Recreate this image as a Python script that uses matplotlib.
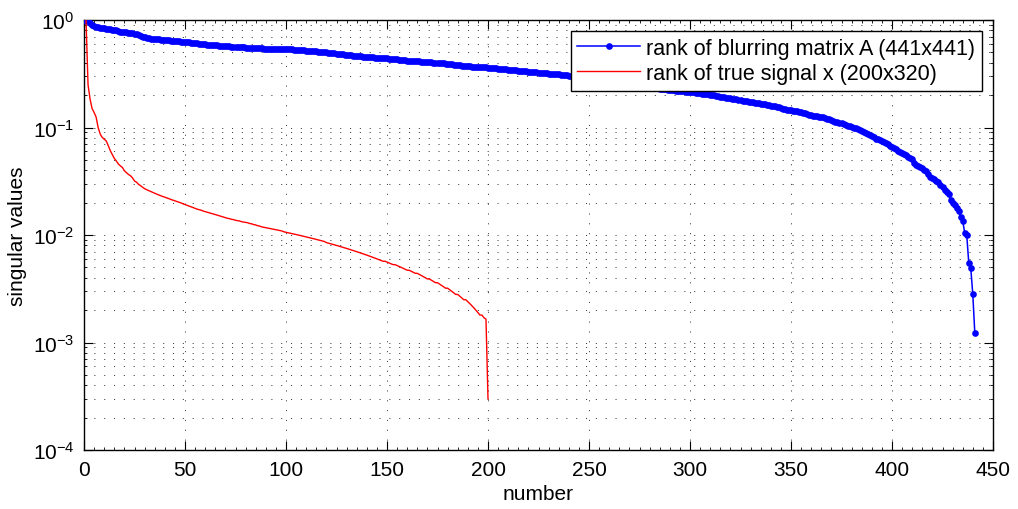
import numpy as np
import matplotlib
matplotlib.use("Agg")
import matplotlib.pyplot as plt
from matplotlib.ticker import LogLocator, MultipleLocator, FixedLocator, NullFormatter

# Singular values of the 441x441 blurring matrix A (index 1..441)
sv_blur = [
    0.97, 1.00, 0.94, 0.90, 0.88, 0.87, 0.86, 0.85, 0.84, 0.84,
    0.83, 0.82, 0.82, 0.81, 0.80, 0.80, 0.79, 0.78, 0.78, 0.77,
    0.77, 0.76, 0.76, 0.75, 0.74, 0.74, 0.72, 0.71, 0.70, 0.69,
    0.68, 0.68, 0.67, 0.67, 0.665, 0.66, 0.66, 0.655, 0.65, 0.65,
    0.645, 0.645, 0.64, 0.64, 0.64, 0.635, 0.635, 0.63, 0.63, 0.625,
    0.62, 0.62, 0.615, 0.61, 0.61, 0.605, 0.60, 0.60, 0.595, 0.595,
    0.59, 0.59, 0.585, 0.585, 0.58, 0.58, 0.578, 0.575, 0.573, 0.572,
    0.57, 0.568, 0.566, 0.564, 0.562, 0.56, 0.559, 0.557, 0.555, 0.554,
    0.552, 0.551, 0.55, 0.548, 0.547, 0.546, 0.545, 0.544, 0.543, 0.542,
    0.541, 0.54, 0.54, 0.539, 0.539, 0.538, 0.538, 0.537, 0.537, 0.536,
    0.535, 0.534, 0.533, 0.531, 0.53, 0.528, 0.526, 0.524, 0.522, 0.52,
    0.518, 0.516, 0.514, 0.512, 0.51, 0.508, 0.506, 0.504, 0.502, 0.50,
    0.498, 0.496, 0.493, 0.49, 0.487, 0.484, 0.481, 0.478, 0.475, 0.472,
    0.47, 0.468, 0.466, 0.464, 0.462, 0.46, 0.458, 0.456, 0.454, 0.452,
    0.45, 0.449, 0.448, 0.447, 0.446, 0.445, 0.444, 0.443, 0.442, 0.44,
    0.438, 0.436, 0.434, 0.432, 0.43, 0.428, 0.426, 0.424, 0.422, 0.42,
    0.418, 0.417, 0.416, 0.414, 0.413, 0.412, 0.41, 0.408, 0.406, 0.405,
    0.404, 0.403, 0.402, 0.401, 0.40, 0.399, 0.397, 0.395, 0.393, 0.391,
    0.389, 0.387, 0.385, 0.383, 0.381, 0.379, 0.377, 0.375, 0.373, 0.371,
    0.37, 0.369, 0.368, 0.367, 0.366, 0.365, 0.364, 0.363, 0.362, 0.36,
    0.359, 0.357, 0.356, 0.355, 0.353, 0.352, 0.35, 0.349, 0.347, 0.346,
    0.344, 0.343, 0.341, 0.34, 0.338, 0.337, 0.335, 0.334, 0.332, 0.331,
    0.329, 0.328, 0.326, 0.325, 0.324, 0.322, 0.321, 0.32, 0.318, 0.317,
    0.316, 0.315, 0.314, 0.313, 0.312, 0.311, 0.31, 0.308, 0.306, 0.304,
    0.302, 0.30, 0.298, 0.296, 0.294, 0.292, 0.29, 0.288, 0.286, 0.284,
    0.282, 0.280, 0.279, 0.277, 0.276, 0.274, 0.273, 0.271, 0.270, 0.268,
    0.266, 0.265, 0.263, 0.262, 0.26, 0.259, 0.257, 0.256, 0.254, 0.253,
    0.251, 0.25, 0.248, 0.247, 0.245, 0.244, 0.242, 0.241, 0.239, 0.238,
    0.236, 0.235, 0.233, 0.232, 0.23, 0.229, 0.227, 0.226, 0.224, 0.223,
    0.222, 0.221, 0.22, 0.219, 0.218, 0.218, 0.217, 0.216, 0.216, 0.215,
    0.214, 0.212, 0.211, 0.21, 0.208, 0.207, 0.206, 0.204, 0.203, 0.202,
    0.2, 0.199, 0.197, 0.196, 0.194, 0.193, 0.191, 0.19, 0.189, 0.188,
    0.186, 0.185, 0.183, 0.182, 0.18, 0.178, 0.176, 0.175, 0.173, 0.172,
    0.171, 0.17, 0.169, 0.168, 0.167, 0.166, 0.165, 0.163, 0.162, 0.16,
    0.158, 0.157, 0.155, 0.154, 0.152, 0.15, 0.149, 0.147, 0.146, 0.144,
    0.143, 0.142, 0.141, 0.14, 0.139, 0.137, 0.135, 0.133, 0.131, 0.13,
    0.129, 0.128, 0.127, 0.126, 0.125, 0.124, 0.123, 0.121, 0.119, 0.117,
    0.115, 0.113, 0.112, 0.111, 0.11, 0.108, 0.106, 0.104, 0.103, 0.101,
    0.099, 0.098, 0.096, 0.094, 0.093, 0.091, 0.089, 0.087, 0.085, 0.083,
    0.081, 0.079, 0.078, 0.077, 0.075, 0.073, 0.072, 0.07, 0.068, 0.066,
    0.065, 0.063, 0.061, 0.059, 0.058, 0.057, 0.055, 0.053, 0.052, 0.051,
    0.047, 0.045, 0.044, 0.043, 0.042, 0.04, 0.039, 0.037, 0.035, 0.034,
    0.033, 0.032, 0.031, 0.029, 0.028, 0.026, 0.025, 0.024, 0.021, 0.02,
    0.019, 0.018, 0.0168, 0.0146, 0.0136, 0.0104, 0.0100, 0.0055, 0.0049, 0.0028,
    0.00122,
]

# Singular values of the 200x320 true signal x (index 1..200)
sv_signal = [
    1.0, 0.25, 0.184, 0.150, 0.138, 0.125, 0.10, 0.087, 0.081, 0.078,
    0.075, 0.068, 0.061, 0.056, 0.0516, 0.0488, 0.0458, 0.044, 0.0425, 0.0396,
    0.038, 0.0366, 0.0356, 0.034, 0.0318, 0.031, 0.0296, 0.0288, 0.0278, 0.027,
    0.0264, 0.0259, 0.0254, 0.0249, 0.0244, 0.024, 0.0236, 0.0232, 0.0228, 0.0225,
    0.0221, 0.0218, 0.0214, 0.0211, 0.0208, 0.0205, 0.0202, 0.0199, 0.0195, 0.0192,
    0.0189, 0.0186, 0.0183, 0.0180, 0.0177, 0.0174, 0.0172, 0.0170, 0.0167, 0.0165,
    0.0163, 0.0161, 0.0159, 0.0157, 0.0155, 0.0153, 0.0151, 0.0149, 0.0147, 0.0145,
    0.0143, 0.0142, 0.0140, 0.0139, 0.0137, 0.0136, 0.0135, 0.0133, 0.0132, 0.0131,
    0.0130, 0.0128, 0.0127, 0.0125, 0.0124, 0.0122, 0.0121, 0.0119, 0.0118, 0.0117,
    0.0116, 0.0115, 0.0114, 0.0113, 0.0112, 0.0111, 0.0110, 0.0109, 0.0107, 0.0106,
    0.0105, 0.0104, 0.0103, 0.0102, 0.0101, 0.0100, 0.0099, 0.0098, 0.0097, 0.0096,
    0.0095, 0.0094, 0.0093, 0.0092, 0.0091, 0.0090, 0.0089, 0.0088, 0.0087, 0.0085,
    0.0084, 0.0083, 0.0082, 0.0081, 0.0080, 0.0079, 0.0078, 0.0077, 0.0076, 0.0075,
    0.0074, 0.0073, 0.0072, 0.0071, 0.0070, 0.0069, 0.0068, 0.0067, 0.0066, 0.0065,
    0.0064, 0.0063, 0.0062, 0.0061, 0.0060, 0.0059, 0.0058, 0.0057, 0.0057, 0.0056,
    0.0055, 0.0054, 0.0053, 0.0053, 0.0052, 0.0051, 0.0050, 0.0049, 0.0048, 0.0047,
    0.0047, 0.0046, 0.0045, 0.0044, 0.0044, 0.0043, 0.0042, 0.0041, 0.0040, 0.0039,
    0.0039, 0.0038, 0.0037, 0.0036, 0.0036, 0.0035, 0.0034, 0.0033, 0.0032, 0.0032,
    0.0031, 0.0030, 0.0029, 0.0028, 0.0028, 0.0027, 0.0026, 0.0025, 0.0025, 0.0024,
    0.0023, 0.0022, 0.0021, 0.0020, 0.0019, 0.0018, 0.0018, 0.0017, 0.00165, 0.0003,
]

label_blur = "rank of blurring matrix A (441x441)"
label_signal = "rank of true signal x (200x320)"
x_ticks = [0, 50, 100, 150, 200, 250, 300, 350, 400, 450]
y_ticks = [1e-4, 1e-3, 1e-2, 1e-1, 1e0]
y_ticklabels = [r"$10^{-4}$", r"$10^{-3}$", r"$10^{-2}$", r"$10^{-1}$", r"$10^{0}$"]

plt.rcParams["font.family"] = ["Liberation Sans", "DejaVu Sans"]
plt.rcParams["mathtext.fontset"] = "custom"
plt.rcParams["mathtext.rm"] = "Liberation Sans"
plt.rcParams["mathtext.it"] = "Liberation Sans:italic"
plt.rcParams["mathtext.default"] = "regular"

fig = plt.figure(figsize=(10.18, 5.10), dpi=100)
ax = fig.add_axes([84 / 1018, 59 / 510, 909 / 1018, 430 / 510])

n_blur = np.arange(1, len(sv_blur) + 1)
n_signal = np.arange(1, len(sv_signal) + 1)

ax.semilogy(n_blur, sv_blur, color=(0, 0, 1), lw=1.1, marker="o",
            markersize=4.8, markeredgewidth=0, label=label_blur, zorder=3)
ax.semilogy(n_signal, sv_signal, color=(1, 0, 0), lw=1.0,
            label=label_signal, zorder=3)

ax.set_xlim(0, 450)
ax.set_ylim(1e-4, 1e0)

ax.xaxis.set_major_locator(FixedLocator(x_ticks))
ax.xaxis.set_minor_locator(MultipleLocator(5))
ax.set_xticklabels([str(t) for t in x_ticks])
ax.yaxis.set_major_locator(FixedLocator(y_ticks))
ax.set_yticklabels(y_ticklabels)
ax.yaxis.set_minor_locator(LogLocator(base=10, subs=np.arange(2, 10), numticks=20))
ax.yaxis.set_minor_formatter(NullFormatter())

ax.tick_params(which="both", direction="in", top=True, right=True,
               labelsize=15, colors="k")
ax.tick_params(which="major", length=6.5, width=0.8, pad=7)
ax.tick_params(which="minor", length=2.2, width=0.6)

grid_style = dict(color="#222222", linestyle=(0, (1.3, 10.5)), linewidth=0.6)
ax.grid(True, which="major", axis="both", **grid_style)
ax.grid(True, which="minor", axis="y", **grid_style)
ax.set_axisbelow(True)

for sp in ax.spines.values():
    sp.set_linewidth(1.0)
    sp.set_color("k")

ax.set_xlabel("number", fontsize=15, labelpad=4)
ax.set_ylabel("singular values", fontsize=15, labelpad=4)

leg = ax.legend(loc="upper right", fontsize=15.5, numpoints=1, fancybox=False,
                framealpha=1, edgecolor="k", handlelength=2.9,
                handletextpad=0.3, borderaxespad=0.5, borderpad=0.32,
                labelspacing=0.2)
leg.get_frame().set_linewidth(1.0)
leg.set_zorder(5)

fig.savefig("out.png", dpi=100, facecolor="white")
